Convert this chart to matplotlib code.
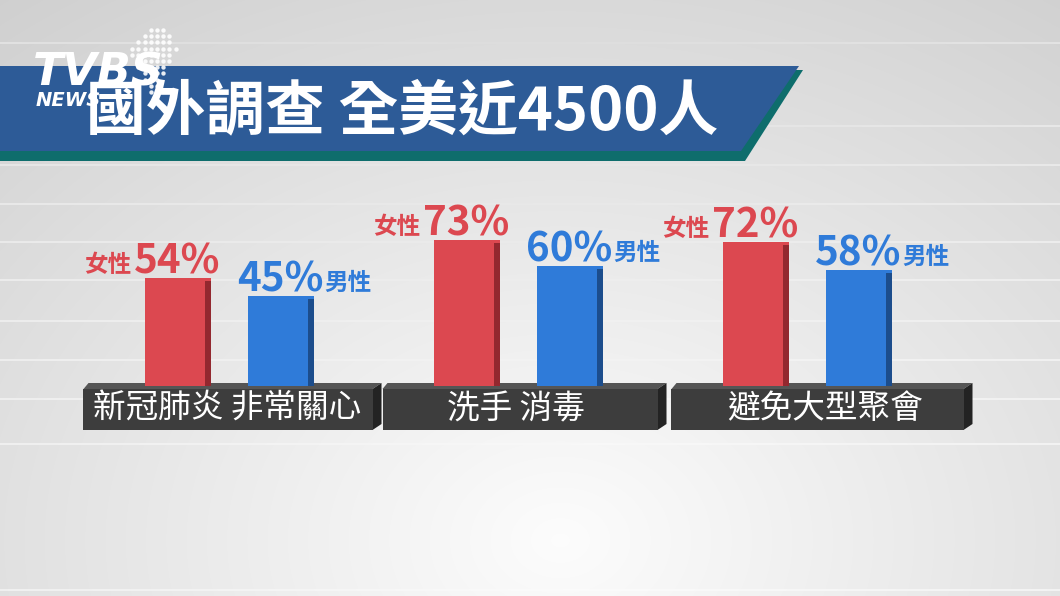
import numpy as np
import matplotlib
matplotlib.use('Agg')
import matplotlib.pyplot as plt
from matplotlib.patches import Polygon, FancyBboxPatch

# data
categories = ['新冠肺炎 非常關心', '洗手 消毒', '避免大型聚會']
female = [54, 73, 72]
male = [45, 60, 58]
female_label = '女性'
male_label = '男性'
title = '國外調查 全美近4500人'

# colours
red = '#dc4850'
red_side = '#93282f'
blue = '#2f7bd9'
blue_side = '#1c4d8c'
cjk = ['Noto Sans CJK TC', 'DejaVu Sans']

W, H = 1060, 596
fig = plt.figure(figsize=(W / 100, H / 100), dpi=100)

# background: soft grey gradient with faint horizontal stripes
bg = fig.add_axes([0, 0, 1, 1])
bg.set_xlim(0, W)
bg.set_ylim(H, 0)
bg.axis('off')
yy, xx = np.mgrid[0:H, 0:W]
d = np.sqrt(((xx - 560) / 620) ** 2 + ((yy - 540) / 470) ** 2)
img = np.clip(0.99 - 0.12 * d, 0.81, 1.0)
edge = 0.1 + 0.9 * (np.abs(xx[0] - 530) / 530) ** 1.5
for ly in [42, 125, 164, 203, 241, 279, 320, 359, 398, 443, 589]:
    img[ly:ly + 2, :] = np.minimum(img[ly:ly + 2, :] + 0.06 * edge, 1.0)
bg.imshow(np.dstack([img] * 3), extent=(0, W, H, 0), aspect='auto', zorder=0)

# title banner
bg.add_patch(Polygon([(0, 70), (803, 70), (745, 161), (0, 161)], closed=True,
                     facecolor='#0e6d6c', edgecolor='none', zorder=2))
bg.add_patch(Polygon([(0, 66), (799, 66), (741, 151), (0, 151)], closed=True,
                     facecolor='#2d5b97', edgecolor='none', zorder=3))
bg.text(402, 112, title, color='white', fontsize=43, fontweight='bold',
        family=cjk, ha='center', va='center', zorder=5)

# TVBS logo: dot cluster plus lettering
gx, gy = np.meshgrid(np.arange(9), np.arange(12))
keep = (gx >= 2 + (gy - 6) * 0.5) & (gx <= 8 - abs(gy - 3) * 0.45) & (gx >= (4 - gy))
bg.scatter(126 + gx[keep] * 6.2, 30 + gy[keep] * 6.2, s=10,
           color='white', alpha=0.9, linewidths=0, zorder=6)
bg.text(33, 86, 'TVBS', color='white', fontsize=32, fontweight='bold',
        style='italic', family='DejaVu Sans', zorder=7)
bg.text(36, 106, 'NEWS', color='white', fontsize=14, fontweight='bold',
        style='italic', family='DejaVu Sans', zorder=7)

# chart axes: 2 px per percent, zero line at y=386 px, groups 289 px apart
ax = fig.add_axes([0, 0, 1, 1], facecolor='none')
x0, step = 229.5, 289.0
ax.set_xlim(-x0 / step, (W - x0) / step)
ax.set_ylim(-105, (H - 210) / 2)
ax.axis('off')

px = 1 / step
x = np.arange(len(categories))
bw = 66 * px
off = 51.5 * px
side = 6 * px

# platforms under each group
plat_l = [-146, -136, -136]
plat_r = [143, 139, 156]
label_dx = [-2, -3, 18]
for i, cat in enumerate(categories):
    L = x[i] + plat_l[i] * px
    R = x[i] + plat_r[i] * px
    ax.add_patch(Polygon([(L, -1.5), (R, -1.5), (R + 9 * px, 1.5), (L + 5 * px, 1.5)],
                         closed=True, facecolor='#555555', edgecolor='none', zorder=1))
    ax.add_patch(Polygon([(R, -1.5), (R + 9 * px, 1.5), (R + 9 * px, -19), (R, -22)],
                         closed=True, facecolor='#232323', edgecolor='none', zorder=1))
    ax.add_patch(FancyBboxPatch((L, -22), R - L, 20.5, boxstyle='square,pad=0',
                                facecolor='#3d3d3d', edgecolor='none', zorder=1))
    ax.text(x[i] + label_dx[i] * px, -11.5, cat, color='white', fontsize=23.5,
            family=cjk, ha='center', va='center', zorder=4)

# bars with a darker side face
ax.bar(x - off, female, width=bw, color=red, zorder=3)
ax.bar(x + off, male, width=bw, color=blue, zorder=3)
ax.bar(x - off + bw / 2 - side / 2, np.array(female) - 1.5, width=side,
       color=red_side, zorder=3)
ax.bar(x + off + bw / 2 - side / 2, np.array(male) - 1.5, width=side,
       color=blue_side, zorder=3)

# value labels
for i in range(len(categories)):
    n = ax.annotate(f'{female[i]}%', xy=(x[i] - off + bw / 2, female[i]), xytext=(9, 5),
                    textcoords='offset pixels', ha='right', va='baseline',
                    fontsize=29, color=red, family=cjk, fontweight='bold', zorder=5)
    ax.annotate(female_label, xy=(0, 0.12), xycoords=n, xytext=(-2, 0),
                textcoords='offset pixels', ha='right', va='bottom',
                fontsize=17, color=red, family=cjk, fontweight='bold', zorder=5)
    m = ax.annotate(f'{male[i]}%', xy=(x[i] + off - bw / 2, male[i]), xytext=(-11, 5),
                    textcoords='offset pixels', ha='left', va='baseline',
                    fontsize=29, color=blue, family=cjk, fontweight='bold', zorder=5)
    ax.annotate(male_label, xy=(1, 0.12), xycoords=m, xytext=(1, 0),
                textcoords='offset pixels', ha='left', va='bottom',
                fontsize=17, color=blue, family=cjk, fontweight='bold', zorder=5)

fig.savefig('out.png', dpi=100)
